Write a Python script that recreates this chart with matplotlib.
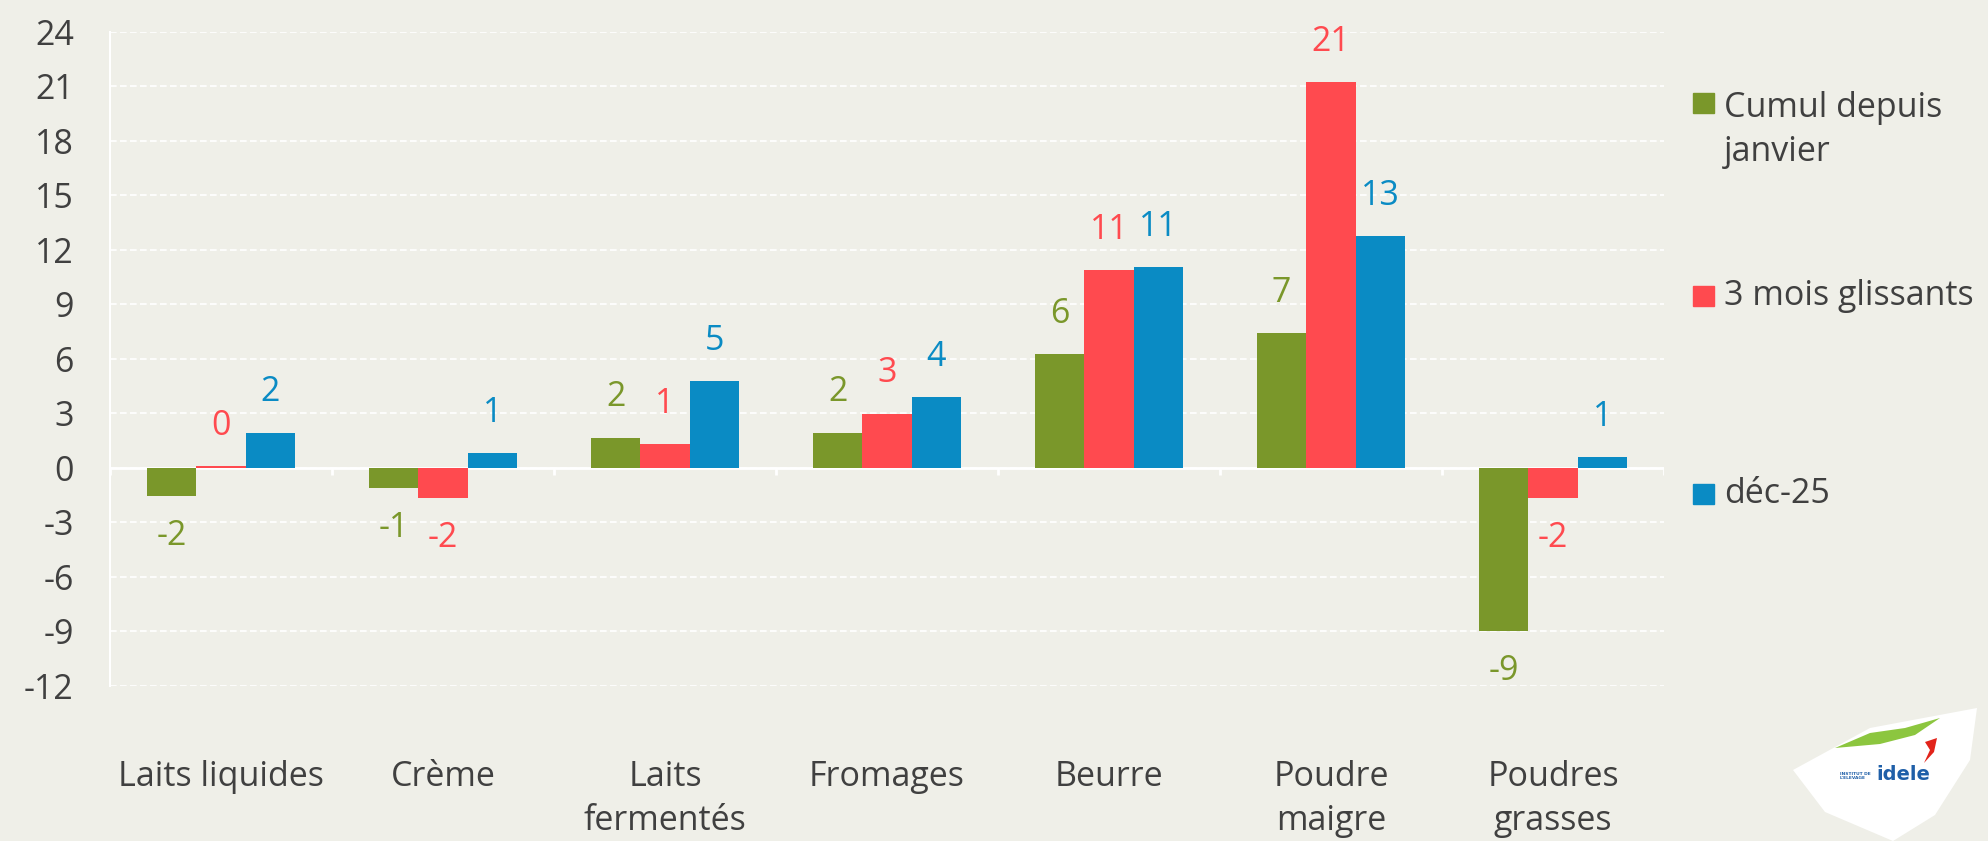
import matplotlib.pyplot as plt
import numpy as np
from matplotlib.patches import Polygon, Rectangle

# Données
categories = ["Laits liquides", "Crème", "Laits\nfermentés", "Fromages",
              "Beurre", "Poudre\nmaigre", "Poudres\ngrasses"]
series_names = ["Cumul depuis\njanvier", "3 mois glissants", "déc-25"]
cumul = [-1.55, -1.1, 1.67, 1.95, 6.25, 7.43, -8.97]
glissant = [0.1, -1.65, 1.32, 2.99, 10.9, 21.24, -1.65]
dec25 = [1.95, 0.83, 4.8, 3.9, 11.05, 12.77, 0.6]
yticks = list(range(-12, 25, 3))

bg = "#EFEFE8"
colors = ["#7A972A", "#FF4A4F", "#0A8BC4"]
txt = "#404040"
fs = 24.5

plt.rcParams['font.family'] = ['Open Sans', 'DejaVu Sans']

fig = plt.figure(figsize=(19.88, 8.41), dpi=100, facecolor=bg)
ax = fig.add_axes([0.0553, 0.1843, 0.7817, 0.7777], facecolor=bg)

x = np.arange(len(categories))
w = 0.222
for i, (vals, col) in enumerate(zip([cumul, glissant, dec25], colors)):
    bars = ax.bar(x + (i - 1) * w, vals, w, color=col, zorder=3)
    for b, v in zip(bars, vals):
        off = 29 if v >= 0 else -29
        ax.annotate(f"{round(v):d}", (b.get_x() + b.get_width() / 2, v),
                    xytext=(0, off), textcoords="offset points",
                    ha="center", va="center", fontsize=fs, color=col, zorder=4)

ax.set_xlim(-0.5, len(categories) - 0.5)
ax.set_ylim(-12, 24)
ax.set_yticks(yticks)
ax.set_yticklabels([str(t) for t in yticks], fontsize=fs, color=txt)
ax.set_xticks(x)
ax.set_xticklabels(categories, fontsize=fs, color=txt, linespacing=1.4, va="top")
ax.tick_params(axis="x", length=0, pad=53)
ax.tick_params(axis="y", length=0, pad=26)

ax.grid(axis="y", color="white", linestyle=(0, (4, 2)), linewidth=1.2, zorder=0)
for s in ["top", "right", "bottom"]:
    ax.spines[s].set_visible(False)
ax.spines["left"].set_color("white")
ax.spines["left"].set_linewidth(1.5)
ax.axhline(0, color="white", linewidth=2, zorder=2)
ax.vlines(np.arange(len(categories) + 1) - 0.5, -0.4, 0, color="white",
          linewidth=2, zorder=2)

# Légende à droite
leg_y = [0.878, 0.648, 0.413]
for name, col, yy in zip(series_names, colors, leg_y):
    fig.patches.append(Rectangle((0.8518, yy - 0.012), 0.0105, 0.024,
                                 transform=fig.transFigure, color=col))
    if "\n" in name:
        fig.text(0.8672, yy + 0.014, name, fontsize=fs, color=txt, va="top",
                 linespacing=1.4)
    else:
        fig.text(0.8672, yy, name, fontsize=fs, color=txt, va="center")

# Logo idele (approximatif)
W, H = 1988, 841
shape = [(1793, 770), (1870, 728), (1977, 708), (1970, 760), (1935, 815),
         (1893, 841), (1825, 812)]
fig.patches.append(Polygon([(px / W, 1 - py / H) for px, py in shape],
                           closed=True, transform=fig.transFigure,
                           facecolor="white", edgecolor="none"))
swoosh = [(1835, 748), (1870, 733), (1905, 728), (1940, 718), (1915, 735),
          (1880, 744)]
fig.patches.append(Polygon([(px / W, 1 - py / H) for px, py in swoosh],
                           closed=True, transform=fig.transFigure,
                           facecolor="#8CC63F", edgecolor="none"))
drop = [(1925, 742), (1937, 738), (1934, 752), (1924, 763), (1930, 750)]
fig.patches.append(Polygon([(px / W, 1 - py / H) for px, py in drop],
                           closed=True, transform=fig.transFigure,
                           facecolor="#E2231A", edgecolor="none"))
fig.text(1840 / W, 1 - 776 / H, "INSTITUT DE\nL'ELEVAGE", fontsize=3.2,
         color="#1F5FA8", weight="bold", linespacing=1.0, va="center",
         family="DejaVu Sans")
fig.text(1876 / W, 1 - 775 / H, "idele", fontsize=14, color="#1F5FA8",
         weight="bold", va="center", family="DejaVu Sans")

fig.savefig("out.png", dpi=100, facecolor=bg)
